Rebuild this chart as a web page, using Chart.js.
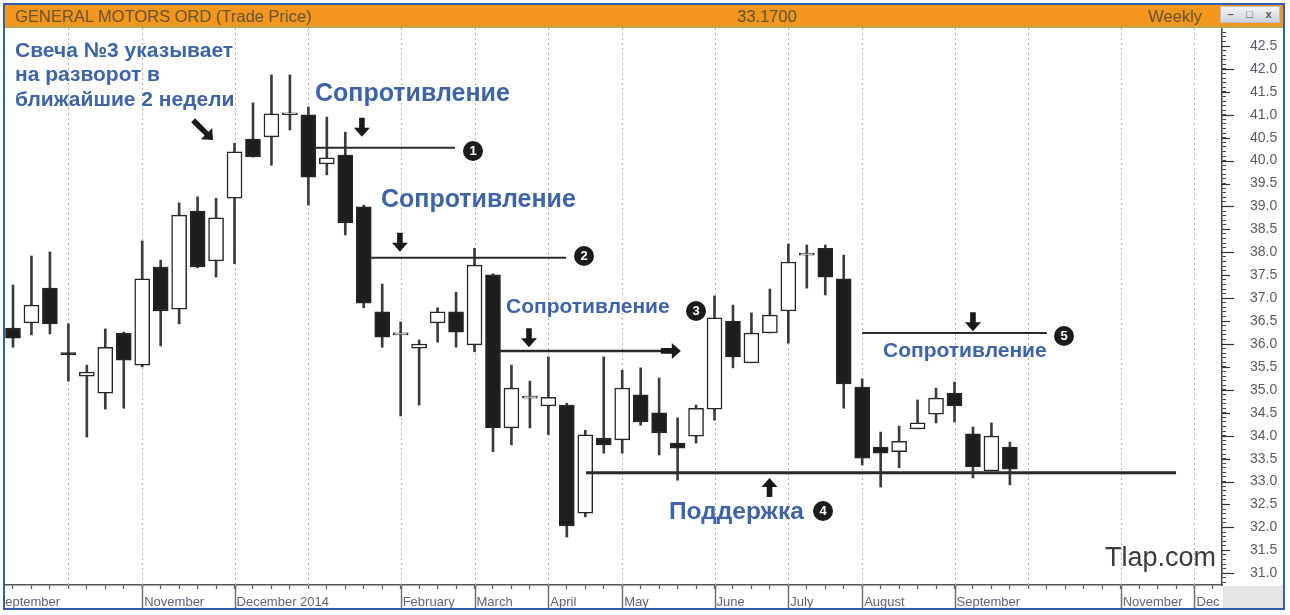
<!DOCTYPE html>
<html>
<head>
<meta charset="utf-8">
<script src="https://cdn.jsdelivr.net/npm/chart.js@4.4.1/dist/chart.umd.min.js"></script>
<style>
  body { margin:0; background:#fff; width:1290px; height:615px; overflow:hidden; position:relative; font-family:"Liberation Sans", Arial, sans-serif; }
  #frame { position:absolute; left:3px; top:3px; width:1278px; height:603px; border:2px solid #2f5fae; }
  #titlebar { position:absolute; left:0; top:0; width:1278px; height:21px; background:#f3961d; border-bottom:2px solid #c6a253; }
  #titlebar span { position:absolute; top:2.5px; font-size:16.5px; line-height:16.5px; color:#6a5533; white-space:nowrap; }
  #buttons { position:absolute; left:1215px; top:1px; width:58px; height:15px; background:linear-gradient(#f2f4f7,#cdd3dc); border:1px solid #b9c0ca; font-size:11px; line-height:15px; color:#555; }
  #buttons b { display:inline-block; width:19px; text-align:center; font-weight:bold; }
  #chart { position:absolute; left:0; top:23px; }
  .note { position:absolute; color:#3e64a8; font-weight:bold; line-height:1; white-space:nowrap; }
  .num { position:absolute; width:20px; height:20px; border-radius:50%; background:#1c1c1c; color:#fff; font:bold 13px "Liberation Sans", Arial, sans-serif; line-height:20px; text-align:center; }
  #wm { position:absolute; left:1105px; top:544px; font-size:27px; line-height:1; color:#3b3b3b; }
</style>
</head>
<body>
<div id="frame">
  <div id="titlebar">
    <span style="left:10px">GENERAL MOTORS ORD (Trade Price)</span>
    <span style="left:732px">33.1700</span>
    <span style="left:1143px">Weekly</span>
    <div id="buttons"><b>–</b><b>□</b><b>x</b></div>
  </div>
  <canvas id="chart" width="1278" height="580"></canvas>
</div>

<div class="note" style="left:15px; top:37.5px; font-size:21px; line-height:24.5px;">Свеча №3 указывает<br>на разворот в<br>ближайшие 2 недели</div>
<div class="note" style="left:315px; top:80px; font-size:25px;">Сопротивление</div>
<div class="note" style="left:381px; top:186px; font-size:25px;">Сопротивление</div>
<div class="note" style="left:506px; top:295px; font-size:21px;">Сопротивление</div>
<div class="note" style="left:883px; top:339px; font-size:21px;">Сопротивление</div>
<div class="note" style="left:669px; top:499px; font-size:24.5px;">Поддержка</div>
<div class="num" style="left:463px; top:141px;">1</div>
<div class="num" style="left:574px; top:246px;">2</div>
<div class="num" style="left:686px; top:301px;">3</div>
<div class="num" style="left:813px; top:501px;">4</div>
<div class="num" style="left:1054px; top:326px;">5</div>
<div id="wm">Tlap.com</div>

<script>
// weekly candles, index 0 = first bar on the left
const opens  = [36.35,36.46,37.22,35.79,35.30,34.93,36.24,35.54,37.68,36.76,38.90,37.81,39.18,40.47,40.52,41.00,41.00,39.93,40.12,38.99,
                36.70,36.20,35.91,36.46,36.70,35.98,37.51,34.17,34.82,34.65,34.67,32.31,33.95,33.91,34.89,34.50,33.84,33.99,34.58,36.50,
                35.59,36.24,36.72,37.94,38.09,37.42,35.06,33.75,33.65,34.15,34.47,34.93,34.04,33.23,33.75];
const highs  = [37.29,37.92,38.01,36.44,35.54,36.33,36.26,38.25,37.83,39.08,39.21,39.18,40.38,41.26,41.87,41.87,41.17,40.95,40.62,39.03,
                37.31,36.48,36.09,36.79,37.13,38.09,37.53,35.54,35.19,35.72,34.71,34.12,35.72,35.43,35.48,35.26,34.39,34.67,37.05,36.85,
                36.68,37.20,38.18,38.16,38.16,37.94,35.24,34.08,34.21,34.78,35.04,35.17,34.19,34.28,33.86];
const lows   = [35.93,36.20,36.22,35.19,33.97,34.58,34.60,35.50,35.96,36.44,37.66,37.46,37.75,40.08,39.90,40.67,39.03,39.69,38.38,36.79,
                35.93,34.43,34.67,36.04,35.93,35.83,33.65,33.80,34.17,34.02,31.79,32.23,33.62,33.62,34.23,33.58,33.03,33.84,34.34,35.48,
                35.59,36.24,36.02,37.22,37.07,34.60,33.36,32.88,33.30,34.15,34.28,34.30,33.08,33.23,32.93];
const closes = [36.13,36.85,36.44,35.77,35.39,35.93,35.65,37.42,36.72,38.81,37.68,38.75,40.19,40.08,41.02,41.00,39.64,40.06,38.64,36.89,
                36.15,36.20,36.00,36.70,36.26,37.72,34.17,35.04,34.82,34.84,32.03,34.02,33.80,35.04,34.30,34.06,33.73,34.60,36.57,35.72,
                36.24,36.63,37.79,37.94,37.46,35.13,33.51,33.62,33.88,34.28,34.82,34.65,33.32,33.99,33.27];

// month starts (week index) and the labels under the axis
const monthGrid   = [3, 7, 12, 16, 21, 25, 29, 33, 38, 42, 46, 51, 55, 60, 64];
const monthTicks  = [-1, 7, 12, 21, 25, 29, 33, 38, 42, 46, 51, 60, 64];
const monthLabels = ['September','November','December 2014','February','March','April','May','June','July','August','September','November','Dec'];
const priceLabels = ['31.0','31.5','32.0','32.5','33.0','33.5','34.0','34.5','35.0','35.5','36.0','36.5',
                     '37.0','37.5','38.0','38.5','39.0','39.5','40.0','40.5','41.0','41.5','42.0','42.5'];

// drawn notes: levels (week index range + price) and arrows (tip position)
const levelLines = [
  { from: 16.42, to: 23.94, price: 40.28, w: 2 },
  { from: 19.40, to: 29.96, price: 37.88, w: 2 },
  { from: 26.38, to: 35.20, price: 35.85, w: 2.5, head: true },
  { from: 31.04, to: 63.00, price: 33.19, w: 3 },
  { from: 46.00, to: 56.00, price: 36.24, w: 2 }
];
const downArrows = [{ x: 18.9, price: 40.52 }, { x: 20.96, price: 38.01 }, { x: 27.95, price: 35.93 }, { x: 52.0, price: 36.28 }];
const upArrows = [{ x: 40.98, price: 33.08 }];
const diagArrows = [{ x: 10.83, price: 40.45 }];

function thickArrow(ctx, x, y, angle, len) {
  ctx.save();
  ctx.translate(x, y);
  ctx.rotate(angle);
  ctx.beginPath();
  ctx.moveTo(0, 0);
  ctx.lineTo(-8, -9); ctx.lineTo(-2.8, -9); ctx.lineTo(-2.8, -len);
  ctx.lineTo(2.8, -len); ctx.lineTo(2.8, -9); ctx.lineTo(8, -9);
  ctx.closePath();
  ctx.fill();
  ctx.restore();
}

function noPadding(s) {
  s.paddingLeft = 0; s.paddingRight = 0; s.paddingTop = 0; s.paddingBottom = 0;
}

const overlay = {
  id: 'overlay',
  beforeDatasetsDraw(chart) {
    const { ctx, chartArea: a, scales: { x } } = chart;
    ctx.save();
    ctx.strokeStyle = '#b0b0b0';
    ctx.lineWidth = 1;
    ctx.setLineDash([2, 3]);
    monthGrid.forEach(m => {
      const px = Math.round(x.getPixelForValue(m)) + 0.5;
      ctx.beginPath(); ctx.moveTo(px, a.top); ctx.lineTo(px, a.bottom); ctx.stroke();
    });
    ctx.restore();
  },
  afterDraw(chart) {
    const { ctx, chartArea: a, scales: { x, y } } = chart;
    ctx.save();
    // month separators in the date bar
    ctx.strokeStyle = '#707070';
    ctx.lineWidth = 1.5;
    monthTicks.forEach(m => {
      if (m < 0) return;
      const px = Math.round(x.getPixelForValue(m)) + 0.5;
      ctx.beginPath(); ctx.moveTo(px, a.bottom); ctx.lineTo(px, chart.height); ctx.stroke();
    });
    // longer ruler marks on the price axis
    ctx.strokeStyle = '#333';
    ctx.lineWidth = 1.2;
    priceLabels.forEach(p => {
      const v = parseFloat(p);
      const py = Math.round(y.getPixelForValue(v)) + 0.5;
      const len = Number.isInteger(v) ? 12 : 8;
      ctx.beginPath(); ctx.moveTo(a.right, py); ctx.lineTo(a.right + len, py); ctx.stroke();
    });
    // corner box
    ctx.fillStyle = '#e4e4e4';
    ctx.fillRect(a.right + 1, a.bottom + 1, chart.width - a.right, chart.height - a.bottom);

    // support / resistance lines
    ctx.strokeStyle = '#2b2b2b';
    ctx.fillStyle = '#1a1a1a';
    levelLines.forEach(l => {
      const py = y.getPixelForValue(l.price);
      const x0 = x.getPixelForValue(l.from), x1 = x.getPixelForValue(l.to);
      ctx.lineWidth = l.w;
      ctx.beginPath(); ctx.moveTo(x0, py); ctx.lineTo(x1, py); ctx.stroke();
      if (l.head) thickArrow(ctx, x1 + 18, py, -Math.PI / 2, 20);
    });
    downArrows.forEach(p => thickArrow(ctx, x.getPixelForValue(p.x), y.getPixelForValue(p.price), 0, 19));
    upArrows.forEach(p => thickArrow(ctx, x.getPixelForValue(p.x), y.getPixelForValue(p.price), Math.PI, 19));
    diagArrows.forEach(p => thickArrow(ctx, x.getPixelForValue(p.x), y.getPixelForValue(p.price), -Math.PI / 4, 28));
    ctx.restore();
  }
};

Chart.defaults.font.family = '"Liberation Sans", Arial, sans-serif';

const bodies = opens.map((o, i) => ({ x: i, y: [o, closes[i]] }));
const wicks = lows.map((l, i) => ({ x: i, y: [l, highs[i]] }));
const bodyColors = opens.map((o, i) => closes[i] >= o ? '#ffffff' : '#1e1e1e');
const weekTicks = [];
for (let w = -1; w <= 65; w++) weekTicks.push(w);

new Chart(document.getElementById('chart'), {
  type: 'bar',
  data: {
    datasets: [
      { label: 'range', data: wicks, backgroundColor: '#3c3c3c', grouped: false, order: 2,
        categoryPercentage: 1, barPercentage: 1, maxBarThickness: 2 },
      { label: 'body', data: bodies, backgroundColor: bodyColors, borderColor: '#262626', borderWidth: 1.5,
        borderSkipped: false, minBarLength: 2, grouped: false, order: 1,
        categoryPercentage: 1, barPercentage: 1, maxBarThickness: 15 }
    ]
  },
  options: {
    responsive: false,
    animation: false,
    devicePixelRatio: 1,
    events: [],
    layout: { padding: 0 },
    plugins: { legend: { display: false }, tooltip: { enabled: false } },
    scales: {
      x: {
        type: 'linear', min: -0.433, max: 65.49, offset: false,
        afterBuildTicks: s => { s.ticks = weekTicks.map(v => ({ value: v })); },
        afterFit: s => { s.height = 23; noPadding(s); },
        grid: { offset: false, drawOnChartArea: false, tickLength: 4, tickColor: '#555', tickWidth: 1.2 },
        border: { display: true, color: '#555', width: 1.5 },
        ticks: {
          autoSkip: false, maxRotation: 0, minRotation: 0, align: 'start', labelOffset: 2, padding: 6,
          color: '#66607a', font: { size: 13 },
          callback: v => { const k = monthTicks.indexOf(v); return k < 0 ? '' : monthLabels[k]; }
        }
      },
      y: {
        type: 'linear', position: 'right', min: 30.744, max: 42.893, beginAtZero: false,
        afterBuildTicks: s => {
          const t = [];
          for (let k = 308; k <= 428; k++) t.push({ value: k / 10 });
          s.ticks = t;
        },
        afterFit: s => { s.width = 61; noPadding(s); },
        grid: { drawOnChartArea: false, tickLength: 4, tickColor: '#444', tickWidth: 1 },
        border: { display: true, color: '#444', width: 1.5 },
        ticks: {
          autoSkip: false, crossAlign: 'near', padding: 24, color: '#5c5866', font: { size: 14 },
          callback: v => { const s = v.toFixed(1); return priceLabels.includes(s) ? s : ''; }
        }
      }
    }
  },
  plugins: [overlay]
});
</script>
</body>
</html>
